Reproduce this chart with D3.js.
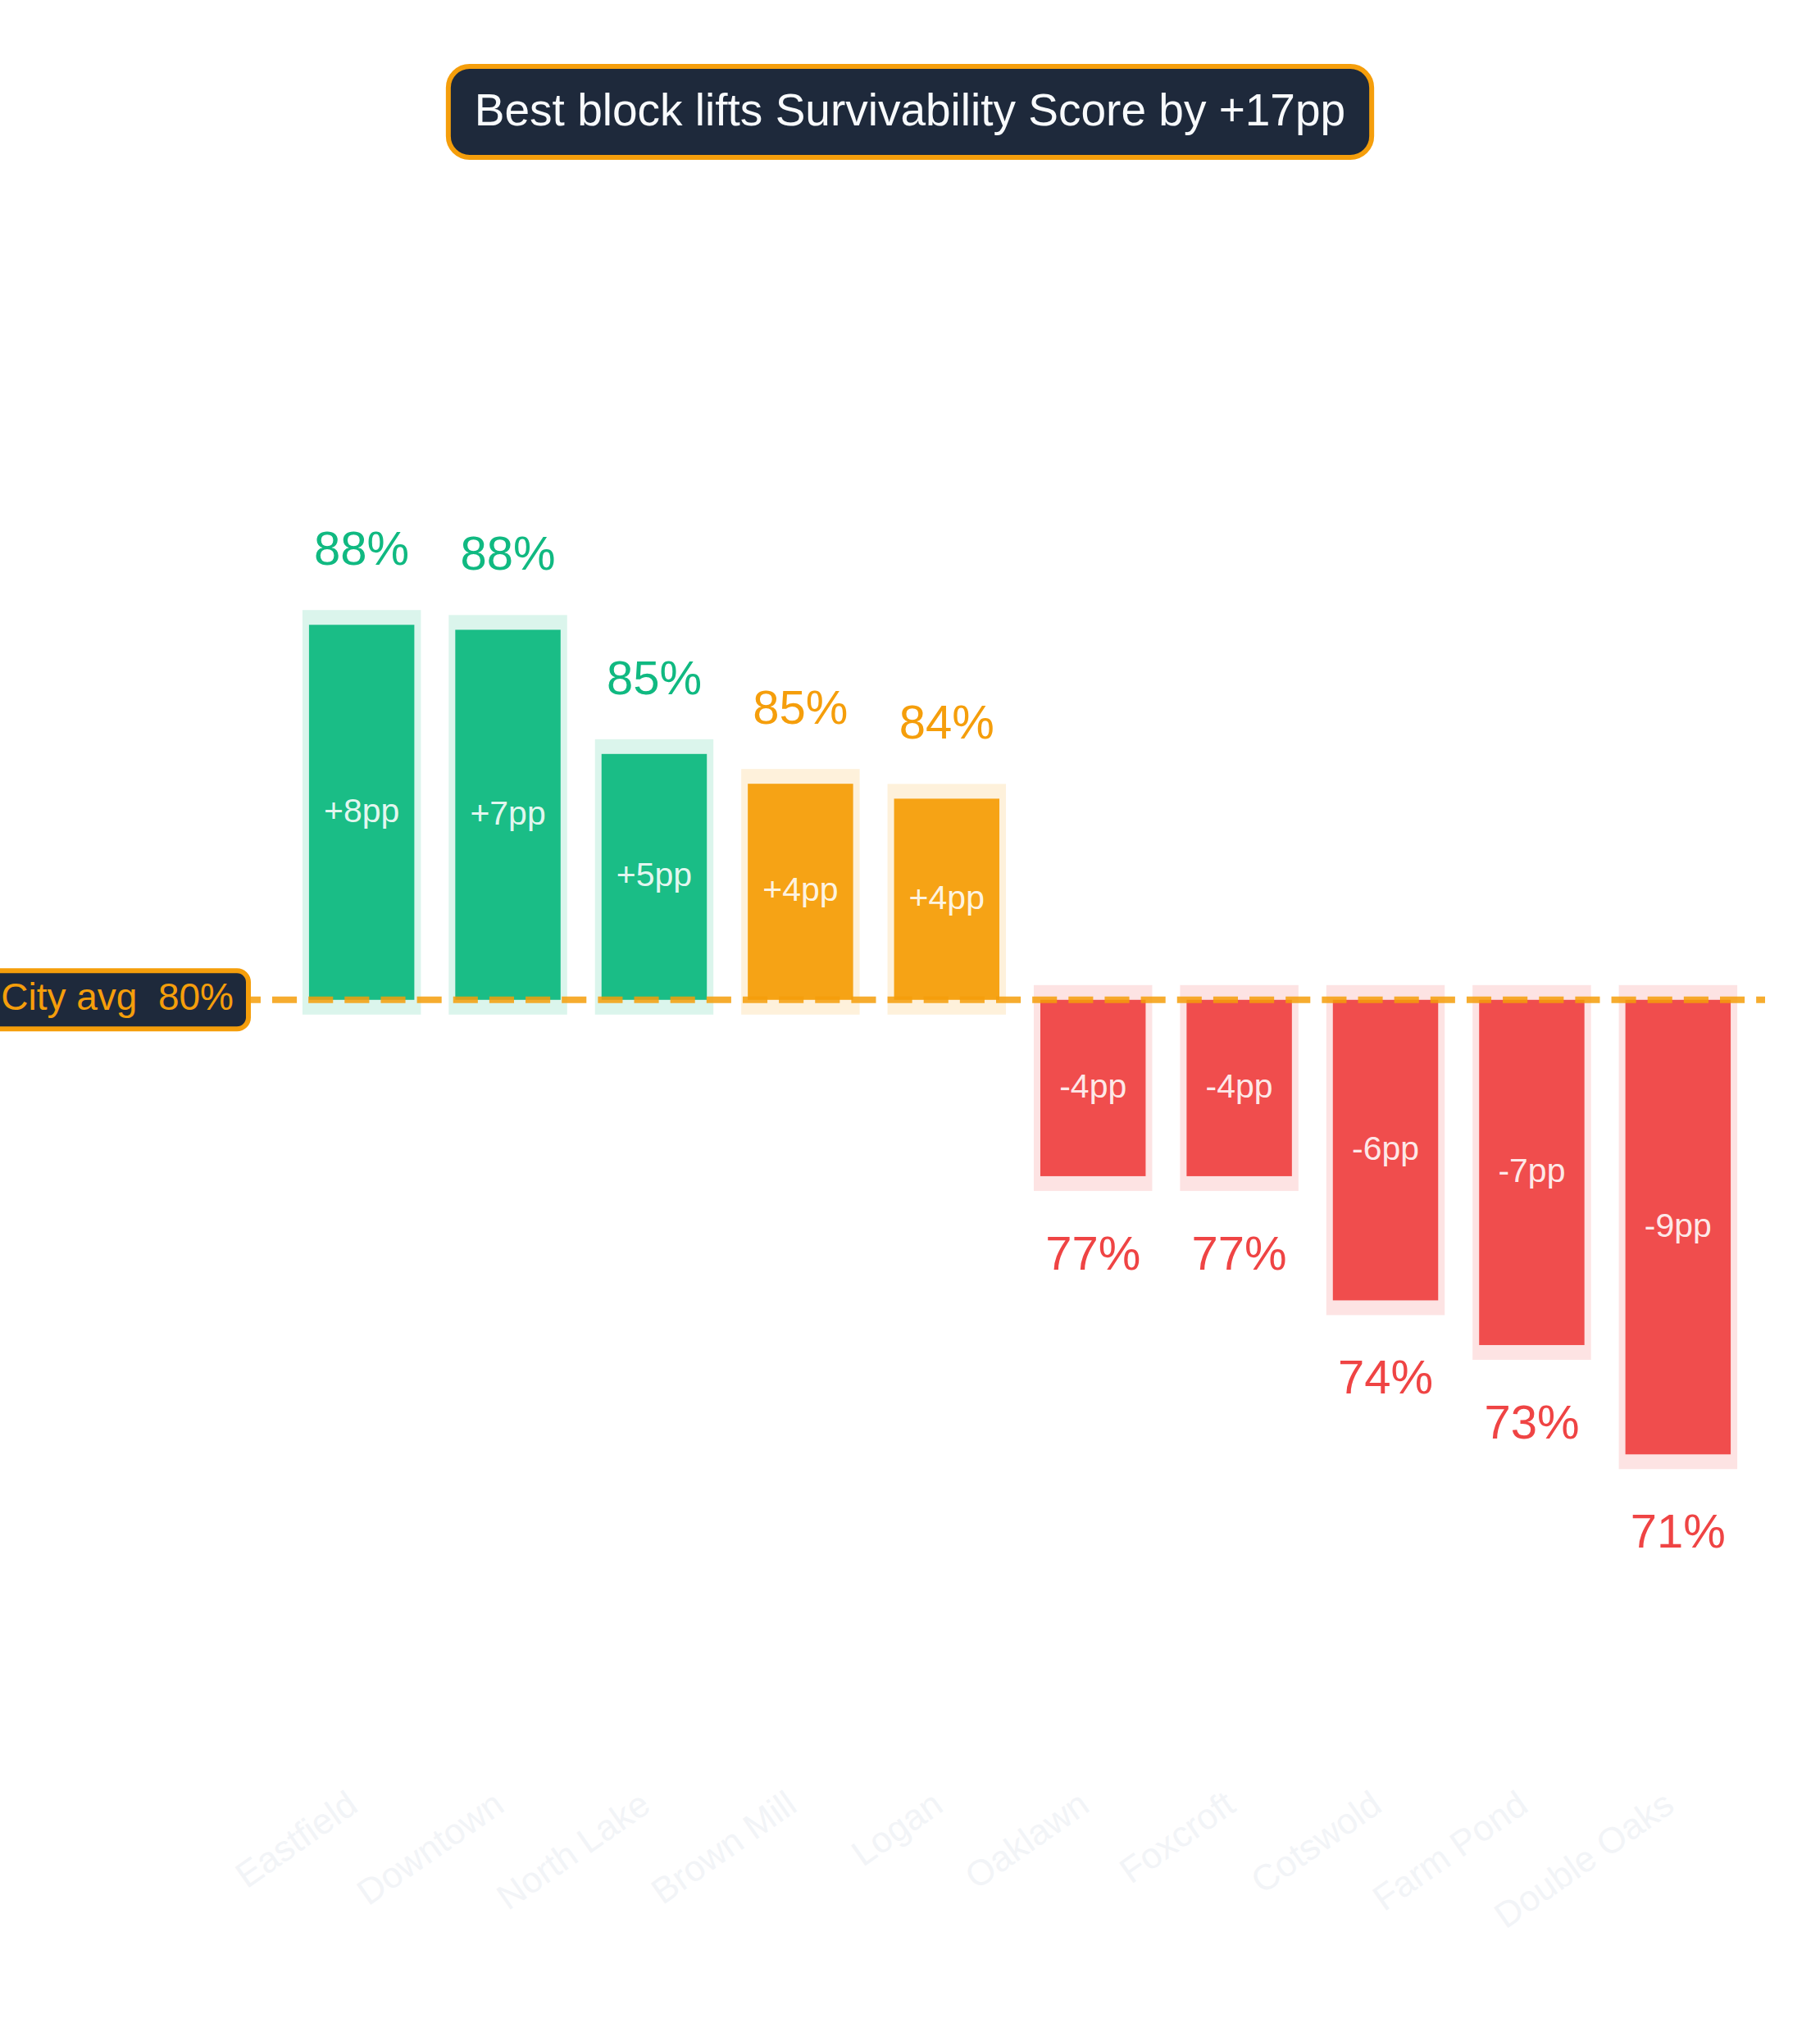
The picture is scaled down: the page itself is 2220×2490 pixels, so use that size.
<!DOCTYPE html>
<html>
<head>
<meta charset="utf-8">
<script src="https://cdn.jsdelivr.net/npm/d3@7"></script>
<style>
  html, body { margin: 0; padding: 0; background: #fff; }
  svg { display: block; font-family: "Liberation Sans", Arial, Helvetica, sans-serif; }
</style>
</head>
<body>
<svg id="chart"></svg>
<script>
// neighbourhood survivability scores (%)
const neighborhoods = ['Eastfield', 'Downtown', 'North Lake', 'Brown Mill', 'Logan',
  'Oaklawn', 'Foxcroft', 'Cotswold', 'Farm Pond', 'Double Oaks'];
const scores = [87.9, 87.8, 85.3, 84.7, 84.4, 76.8, 76.8, 74.3, 73.4, 71.2];
const cityAvg = 80.35;
const yDomain = [65, 95];

const width = 2220, height = 2490;
const GREEN = '#10b981', AMBER = '#f59e0b', RED = '#ef4444', NAVY = '#1e293b';

const data = neighborhoods.map((name, i) => ({ name, value: scores[i], delta: scores[i] - cityAvg }));

const colorOf = d => d.value >= 85 ? GREEN : (d.delta >= 0 ? AMBER : RED);
const fmtDelta = d => {
  const r = Math.round(d);
  return (r > 0 ? '+' : '') + r + 'pp';
};

const svg = d3.select('#chart')
  .attr('width', width)
  .attr('height', height)
  .attr('viewBox', `0 0 ${width} ${height}`);

svg.append('rect').attr('width', width).attr('height', height).attr('fill', '#fff');

const x = d3.scaleBand()
  .domain(neighborhoods)
  .range([335, 2153])
  .paddingInner(0.28)
  .paddingOuter(0.235);

const y = d3.scaleLinear()
  .domain(yDomain)
  .range([2150, 332]);

const yAvg = y(cityAvg);

// soft halo behind each bar
svg.append('g')
  .selectAll('rect')
  .data(data)
  .enter()
  .append('rect')
  .attr('x', d => x(d.name) - 8)
  .attr('width', x.bandwidth() + 16)
  .attr('y', d => Math.min(y(d.value), yAvg) - 18)
  .attr('height', d => Math.abs(y(d.value) - yAvg) + 36)
  .attr('fill', colorOf)
  .attr('opacity', 0.15);

svg.append('g')
  .selectAll('rect')
  .data(data)
  .enter()
  .append('rect')
  .attr('x', d => x(d.name))
  .attr('width', x.bandwidth())
  .attr('y', d => Math.min(y(d.value), yAvg))
  .attr('height', d => Math.abs(y(d.value) - yAvg))
  .attr('fill', colorOf)
  .attr('opacity', 0.95);

// city average reference line
svg.append('line')
  .attr('x1', 0)
  .attr('x2', x.range()[1])
  .attr('y1', yAvg)
  .attr('y2', yAvg)
  .attr('stroke', AMBER)
  .attr('stroke-opacity', 0.85)
  .attr('stroke-width', 8)
  .attr('stroke-dasharray', '30.1 14.05')
  .attr('stroke-dashoffset', 21.2);

// delta inside bars
svg.append('g')
  .selectAll('text')
  .data(data)
  .enter()
  .append('text')
  .attr('x', d => x(d.name) + x.bandwidth() / 2)
  .attr('y', d => (y(d.value) + yAvg) / 2)
  .attr('dy', '0.28em')
  .attr('text-anchor', 'middle')
  .attr('font-size', 41)
  .attr('fill', '#fff')
  .attr('fill-opacity', 0.9)
  .text(d => fmtDelta(d.delta));

// value labels outside bars
svg.append('g')
  .selectAll('text')
  .data(data)
  .enter()
  .append('text')
  .attr('x', d => x(d.name) + x.bandwidth() / 2)
  .attr('y', d => d.delta >= 0 ? y(d.value) - 73 : y(d.value) + 114)
  .attr('text-anchor', 'middle')
  .attr('font-size', 58)
  .attr('fill', colorOf)
  .text(d => Math.round(d.value) + '%');

// faint category labels
svg.append('g')
  .selectAll('text')
  .data(data)
  .enter()
  .append('text')
  .attr('transform', d => `translate(${x(d.name) + x.bandwidth() / 2 - 2},2208) rotate(-35)`)
  .attr('text-anchor', 'end')
  .attr('font-size', 44)
  .attr('fill', '#f2f4f7')
  .text(d => d.name);

// city avg badge
const avgG = svg.append('g');
const avgBox = avgG.append('rect');
const avgText = avgG.append('text')
  .attr('x', 285)
  .attr('y', yAvg + 12)
  .attr('text-anchor', 'end')
  .attr('font-size', 46)
  .attr('fill', AMBER)
  .attr('xml:space', 'preserve')
  .style('white-space', 'pre')
  .text(`City avg  ${Math.round(cityAvg)}%`);
const ab = avgText.node().getBBox();
avgBox
  .attr('x', ab.x - 18)
  .attr('y', yAvg - 35.5)
  .attr('width', ab.width + 36)
  .attr('height', 71)
  .attr('rx', 14)
  .attr('fill', NAVY)
  .attr('stroke', AMBER)
  .attr('stroke-width', 6);

// headline badge
const spread = Math.round(d3.max(scores) - d3.min(scores));
const titleG = svg.append('g');
const titleBox = titleG.append('rect');
const titleText = titleG.append('text')
  .attr('x', width / 2)
  .attr('y', 153)
  .attr('text-anchor', 'middle')
  .attr('font-size', 55)
  .attr('fill', '#f8fafc')
  .text(`Best block lifts Survivability Score by +${spread}pp`);
const tb = titleText.node().getBBox();
titleBox
  .attr('x', tb.x - 32)
  .attr('y', 81)
  .attr('width', tb.width + 64)
  .attr('height', 111)
  .attr('rx', 26)
  .attr('fill', NAVY)
  .attr('stroke', AMBER)
  .attr('stroke-width', 6);
</script>
</body>
</html>
